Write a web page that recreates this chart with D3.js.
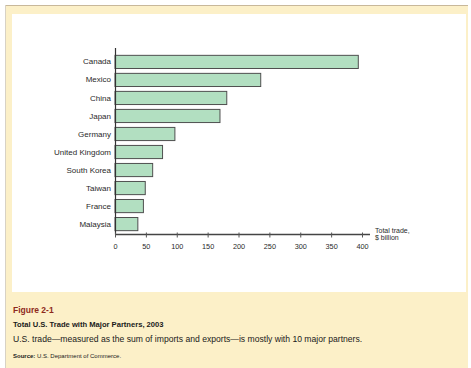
<!DOCTYPE html>
<html>
<head>
<meta charset="utf-8">
<script src="https://cdn.jsdelivr.net/npm/d3@7"></script>
<style>
  html, body { margin: 0; padding: 0; background: #ffffff; }
  svg { display: block; }
</style>
</head>
<body>
<svg id="chart" width="471" height="368"></svg>
<script>
// U.S. total trade (imports + exports) with major partners, 2003, $ billion
const partners = ["Canada", "Mexico", "China", "Japan", "Germany", "United Kingdom",
                  "South Korea", "Taiwan", "France", "Malaysia"];
const totalTrade = [394, 236, 181, 170, 97, 77, 61, 49, 46, 37];
const xTicks = [0, 50, 100, 150, 200, 250, 300, 350, 400];

const svg = d3.select("#chart");
const W = 471, H = 368;

// page frame: cream card with a white plotting panel
svg.append("rect").attr("x", 0).attr("y", 0).attr("width", W).attr("height", H).attr("fill", "#ffffff");
svg.append("rect").attr("x", 5).attr("y", 5).attr("width", 463).attr("height", 363).attr("fill", "#fcf0c8");
svg.append("line").attr("x1", 5).attr("x2", 468).attr("y1", 5.5).attr("y2", 5.5)
  .attr("stroke", "#c8b89a").attr("stroke-width", 1);
svg.append("line").attr("x1", 5.5).attr("x2", 5.5).attr("y1", 5).attr("y2", 368)
  .attr("stroke", "#d8d2c4").attr("stroke-width", 1);
svg.append("rect").attr("x", 12).attr("y", 14).attr("width", 454).attr("height", 278).attr("fill", "#ffffff");

const x = d3.scaleLinear().domain([0, 400]).range([115, 362]);
const y = d3.scaleBand().domain(partners).range([53, 233]).paddingInner(0.27).paddingOuter(0.13);

const labelFont = "Liberation Sans, Arial, Helvetica, sans-serif";

// bars
svg.append("g").selectAll("rect")
  .data(partners)
  .join("rect")
  .attr("x", x(0))
  .attr("y", d => y(d))
  .attr("width", (d, i) => x(totalTrade[i]) - x(0))
  .attr("height", y.bandwidth())
  .attr("fill", "#b2dfc1")
  .attr("stroke", "#4f4f4f")
  .attr("stroke-width", 1);

// category axis
const yAxis = svg.append("g")
  .attr("transform", `translate(${x(0)},0)`)
  .call(d3.axisLeft(y).tickSize(0).tickPadding(4));
yAxis.select(".domain").attr("d", `M0.5,48V234.5`).attr("stroke", "#333").attr("stroke-width", 1.2);
yAxis.selectAll("text").attr("font-family", labelFont).attr("font-size", 8).attr("fill", "#2a2a2a");

// value axis
const xAxis = svg.append("g")
  .attr("transform", `translate(0,234.5)`)
  .call(d3.axisBottom(x).tickValues(xTicks).tickSize(3).tickPadding(6));
xAxis.select(".domain").attr("d", `M${x(0)},0H370`).attr("stroke", "#444").attr("stroke-width", 1.6);
xAxis.selectAll(".tick line").attr("y1", -2).attr("y2", 3).attr("stroke", "#555");
xAxis.selectAll("text").attr("font-family", labelFont).attr("font-size", 7.3).attr("fill", "#2a2a2a");

// axis title, two lines
const axisTitleLines = ["Total trade,", "$ billion"];
svg.append("g").selectAll("text")
  .data(axisTitleLines)
  .join("text")
  .attr("x", 375)
  .attr("y", (d, i) => 232.5 + i * 7.5)
  .attr("font-family", labelFont).attr("font-size", 7).attr("fill", "#2a2a2a")
  .text(d => d);

// caption block
const capFont = "Liberation Sans Narrow, Arial Narrow, Liberation Sans, sans-serif";
svg.append("text").attr("x", 13).attr("y", 312.5)
  .attr("font-family", labelFont).attr("font-weight", "bold").attr("font-size", 8.5)
  .attr("fill", "#8e2a1c").text("Figure 2-1");
svg.append("text").attr("x", 13).attr("y", 326.5)
  .attr("font-family", capFont).attr("font-weight", "bold").attr("font-size", 7.6)
  .attr("fill", "#1a1a1a").text("Total U.S. Trade with Major Partners, 2003");
svg.append("text").attr("x", 13).attr("y", 342)
  .attr("font-family", capFont).attr("font-size", 8.6)
  .attr("fill", "#1a1a1a").text("U.S. trade\u2014measured as the sum of imports and exports\u2014is mostly with 10 major partners.");
const src = svg.append("text").attr("x", 13).attr("y", 358)
  .attr("font-family", capFont).attr("font-size", 6)
  .attr("fill", "#1a1a1a");
src.append("tspan").attr("font-weight", "bold").text("Source: ");
src.append("tspan").text("U.S. Department of Commerce.");
</script>
</body>
</html>
